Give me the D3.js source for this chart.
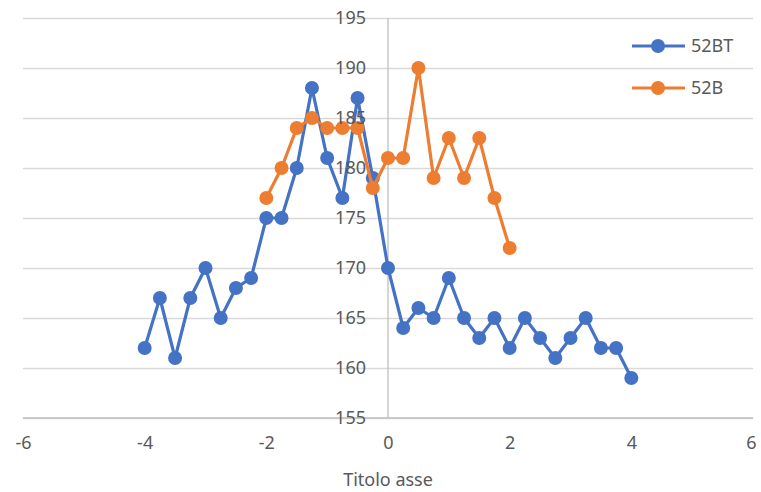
<!DOCTYPE html>
<html>
<head>
<meta charset="utf-8">
<script src="https://cdn.jsdelivr.net/npm/d3@7"></script>
<style>
  body { margin: 0; background: #fff; }
  text { font-family: "Noto Sans", "DejaVu Sans", sans-serif; fill: #595959; }
</style>
</head>
<body>
<div class="chart"></div>
<script>
// data
var xBT = [-4, -3.75, -3.5, -3.25, -3, -2.75, -2.5, -2.25, -2, -1.75, -1.5, -1.25, -1, -0.75, -0.5, -0.25,
  0, 0.25, 0.5, 0.75, 1, 1.25, 1.5, 1.75, 2, 2.25, 2.5, 2.75, 3, 3.25, 3.5, 3.75, 4];
var yBT = [162, 167, 161, 167, 170, 165, 168, 169, 175, 175, 180, 188, 181, 177, 187, 179,
  170, 164, 166, 165, 169, 165, 163, 165, 162, 165, 163, 161, 163, 165, 162, 162, 159];
var xB = [-2, -1.75, -1.5, -1.25, -1, -0.75, -0.5, -0.25, 0, 0.25, 0.5, 0.75, 1, 1.25, 1.5, 1.75, 2];
var yB = [177, 180, 184, 185, 184, 184, 184, 178, 181, 181, 190, 179, 183, 179, 183, 177, 172];
var xTicks = [-6, -4, -2, 0, 2, 4, 6];
var yTicks = [155, 160, 165, 170, 175, 180, 185, 190, 195];
var seriesNames = ["52BT", "52B"];
var colors = ["#4472c4", "#ed7d31"];

var svgWidth = 761;
var svgHeight = 492;
var margin = { top: 18, right: 8, bottom: 74, left: 23 };
var width = svgWidth - margin.left - margin.right;
var height = svgHeight - margin.top - margin.bottom;

var svg = d3.select(".chart")
  .append("svg")
  .attr("width", svgWidth)
  .attr("height", svgHeight);

var chartGroup = svg.append("g")
  .attr("transform", `translate(${margin.left}, ${margin.top})`);

var xScale = d3.scaleLinear().domain([-6, 6]).range([0, width]);
var yScale = d3.scaleLinear().domain([155, 195]).range([height, 0]);

// horizontal gridlines
chartGroup.append("g")
  .call(d3.axisLeft(yScale).tickValues(yTicks).tickSize(-width).tickFormat(""))
  .call(g => g.select(".domain").remove())
  .selectAll("line")
  .attr("stroke", "#d9d9d9")
  .attr("stroke-width", 1.3);

// vertical axis line at x = 0
chartGroup.append("line")
  .attr("x1", xScale(0)).attr("x2", xScale(0))
  .attr("y1", 0).attr("y2", height)
  .attr("stroke", "#bfbfbf")
  .attr("stroke-width", 1.3);

// horizontal axis line
chartGroup.append("line")
  .attr("x1", 0).attr("x2", width)
  .attr("y1", height).attr("y2", height)
  .attr("stroke", "#bfbfbf")
  .attr("stroke-width", 1.3);

var data = [
  xBT.map((x, i) => ({ x: x, y: yBT[i] })),
  xB.map((x, i) => ({ x: x, y: yB[i] }))
];

var line = d3.line().x(d => xScale(d.x)).y(d => yScale(d.y));

data.forEach(function (series, k) {
  chartGroup.append("path")
    .datum(series)
    .attr("fill", "none")
    .attr("stroke", colors[k])
    .attr("stroke-width", 3.2)
    .attr("stroke-linejoin", "round")
    .attr("d", line);

  chartGroup.selectAll(".dot" + k)
    .data(series)
    .enter()
    .append("circle")
    .attr("cx", d => xScale(d.x))
    .attr("cy", d => yScale(d.y))
    .attr("r", 7)
    .attr("fill", colors[k]);
});

// y tick labels, next to the vertical axis
chartGroup.append("g")
  .attr("transform", `translate(${xScale(0)},0)`)
  .call(d3.axisLeft(yScale).tickValues(yTicks).tickSize(0).tickPadding(22).tickFormat(d => String(d)))
  .call(g => g.select(".domain").remove())
  .selectAll("text")
  .style("font-size", "18px")
  .style("fill", "#595959");

// x tick labels
chartGroup.append("g")
  .attr("transform", `translate(0,${height})`)
  .call(d3.axisBottom(xScale).tickValues(xTicks).tickSize(0).tickPadding(18).tickFormat(d => String(d)))
  .call(g => g.select(".domain").remove())
  .selectAll("text")
  .style("font-size", "18px")
  .style("fill", "#595959")
  .attr("dx", d => d === 6 ? -2 : 0);

// axis title
chartGroup.append("text")
  .attr("x", xScale(0))
  .attr("y", height + 68)
  .attr("text-anchor", "middle")
  .style("font-size", "18px")
  .text("Titolo asse");

// legend
var legend = svg.append("g");
seriesNames.forEach(function (name, k) {
  var ly = 46 + k * 42;
  legend.append("line")
    .attr("x1", 632).attr("x2", 685)
    .attr("y1", ly).attr("y2", ly)
    .attr("stroke", colors[k])
    .attr("stroke-width", 3.2);
  legend.append("circle")
    .attr("cx", 658).attr("cy", ly)
    .attr("r", 7)
    .attr("fill", colors[k]);
  legend.append("text")
    .attr("x", 691)
    .attr("y", ly)
    .attr("dy", "0.35em")
    .style("font-size", "18px")
    .text(name);
});
</script>
</body>
</html>
